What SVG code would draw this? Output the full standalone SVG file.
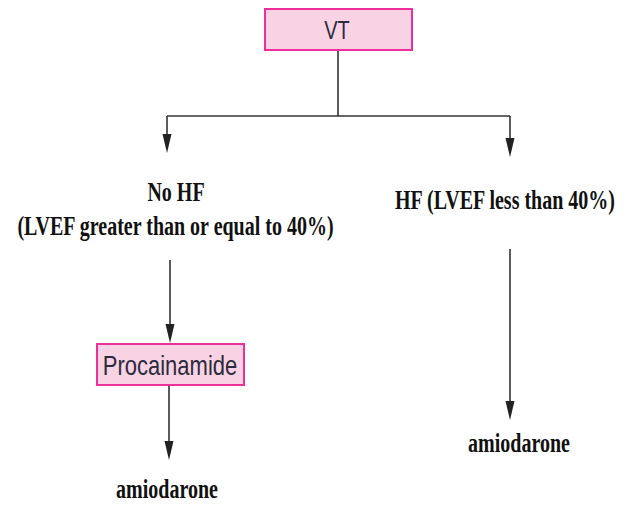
<svg xmlns="http://www.w3.org/2000/svg" width="634" height="505" viewBox="0 0 634 505">
<defs>
<style>
.box{fill:#f9d3e4;stroke:#ec2f9a;stroke-width:2}
.sans{font-family:"Liberation Sans",Arial,sans-serif;fill:#2b2b3c;text-anchor:middle}
.serif{font-family:"Liberation Serif","Times New Roman",serif;font-weight:bold;font-size:20px;fill:#111;text-anchor:middle}
.ln{stroke:#333;stroke-width:1.6;fill:none}
.head{fill:#222}
</style>
</defs>
<rect width="634" height="505" fill="#fff"/>
<g id="connectors">
<path class="ln" d="M338,50 V116 M167,116 H510"/>
<line class="ln" x1="167" y1="116" x2="167" y2="140"/>
<path class="head" d="M162.5,134 L171.5,134 L167,153 Z"/>
<line class="ln" x1="510" y1="116" x2="510" y2="144"/>
<path class="head" d="M505.5,138 L514.5,138 L510,157 Z"/>
<line class="ln" x1="170" y1="260" x2="170" y2="330"/>
<path class="head" d="M165.5,324 L174.5,324 L170,343 Z"/>
<line class="ln" x1="169" y1="385" x2="169" y2="447"/>
<path class="head" d="M164.5,441 L173.5,441 L169,460 Z"/>
<line class="ln" x1="510" y1="249" x2="510" y2="407"/>
<path class="head" d="M505.5,401 L514.5,401 L510,420 Z"/>
</g>
<g id="vt">
<rect class="box" x="265" y="9" width="147" height="41"/>
<text class="sans" font-size="20" transform="translate(337,39) scale(1,1.32)">VT</text>
</g>
<g id="nohf">
<text class="serif" transform="translate(176,201) scale(1,1.38)">No HF</text>
<text class="serif" transform="translate(175.5,235) scale(1,1.38)">(LVEF greater than or equal to 40%)</text>
</g>
<g id="hf">
<text class="serif" transform="translate(505,209) scale(1,1.38)">HF (LVEF less than 40%)</text>
</g>
<g id="procainamide">
<rect class="box" x="97" y="344" width="147" height="41"/>
<text class="sans" font-size="22" transform="translate(170,375) scale(1,1.28)">Procainamide</text>
</g>
<g id="amio-left">
<text class="serif" transform="translate(167,498) scale(1,1.38)">amiodarone</text>
</g>
<g id="amio-right">
<text class="serif" transform="translate(519,452) scale(1,1.38)">amiodarone</text>
</g>
</svg>
